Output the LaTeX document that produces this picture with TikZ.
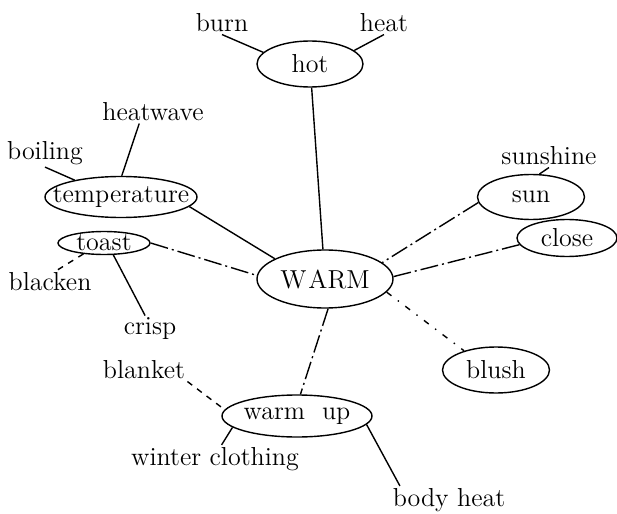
\documentclass[tikz,border=0pt]{standalone}
\usepackage{amsmath}
\usetikzlibrary{shapes.geometric}

\newcommand{\snug}[1]{\makebox[0pt]{#1}}

\tikzset{
  word/.style={inner sep=1pt, font=\fontsize{13}{15}\selectfont},
  oval/.style={draw, ellipse, inner sep=0pt, line width=0.7pt,
    font=\fontsize{13}{15}\selectfont},
  link/.style={line width=0.7pt},
  dashlink/.style={line width=0.7pt, dash pattern=on 9pt off 2pt on 1pt off 2pt},
}

\begin{document}
\begin{tikzpicture}[x=0.5pt, y=-0.5pt]
          \useasboundingbox (0,0) rectangle (617,514);
          % centre and the ringed words
          \node[oval, minimum width=68pt, minimum height=29pt] (warm) at (325,279) {\snug{W\kern1pt ARM}};
          \node[oval, minimum width=53pt, minimum height=23pt] (hot) at (310,64) {\snug{hot}};
          \node[oval, minimum width=76pt, minimum height=20.5pt] (temp) at (121,197) {\snug{temperature}};
          \node[oval, minimum width=46pt, minimum height=11pt] (toast) at (104,243) {\snug{toast}};
          \node[oval, minimum width=53.5pt, minimum height=22.5pt] (sun) at (531,197) {\snug{sun}};
          \node[oval, minimum width=50pt, minimum height=18.5pt] (close) at (567,238) {\snug{close}};
          \node[oval, minimum width=53.5pt, minimum height=23pt] (blush) at (496,370) {\snug{blush}};
          \node[oval, minimum width=75pt, minimum height=21pt] (warmup) at (297,416) {\snug{warm\ \ up}};
          % loose words
          \node[word] (burn) at (222,23) {burn};
          \node[word] (heat) at (384,23) {heat};
          \node[word] (heatwave) at (153,112) {heatwave};
          \node[word] (boiling) at (45,153) {boiling};
          \node[word] (blacken) at (50,282) {blacken};
          \node[word] (crisp) at (150,329) {crisp};
          \node[word] (sunshine) at (549,156) {sunshine};
          \node[word] (blanket) at (144,370) {blanket};
          \node[word] (winter) at (215,459) {winter clothing};
          \node[word] (bodyheat) at (449,500) {body heat};
          % links to WARM
          \draw[link] (hot) -- (warm);
          \draw[link] (temp.-8) -- (warm.158);
          \draw[dashlink] (toast.0) -- (warm.177);
          \draw[dashlink] (sun.-174) -- (warm.16);
          \draw[dashlink] (close.-172) -- (warm.2);
          \draw[link, loosely dashdotted] (warm.-12) -- (blush.149);
          \draw[dashlink] (warm.-84) -- (warmup.81);
          % outer links
          \draw[link] (burn.south) -- (hot.166);
          \draw[link] (heat.south) -- (hot.17);
          \draw[link] (heatwave.-140) -- (temp.88);
          \draw[link] (boiling.south) -- (temp.160);
          \draw[link, dashed] (toast.-152) -- (blacken.60);
          \draw[link] (toast.-52) -- (crisp.110);
          \draw[link] (sunshine.south) -- (sun.70);
          \draw[link, dashed] (blanket.south east) -- (warmup.175);
          \draw[link] (winter.65) -- (warmup.-170);
          \draw[link] (warmup.-7) -- (bodyheat.164);
        \end{tikzpicture}
\end{document}
